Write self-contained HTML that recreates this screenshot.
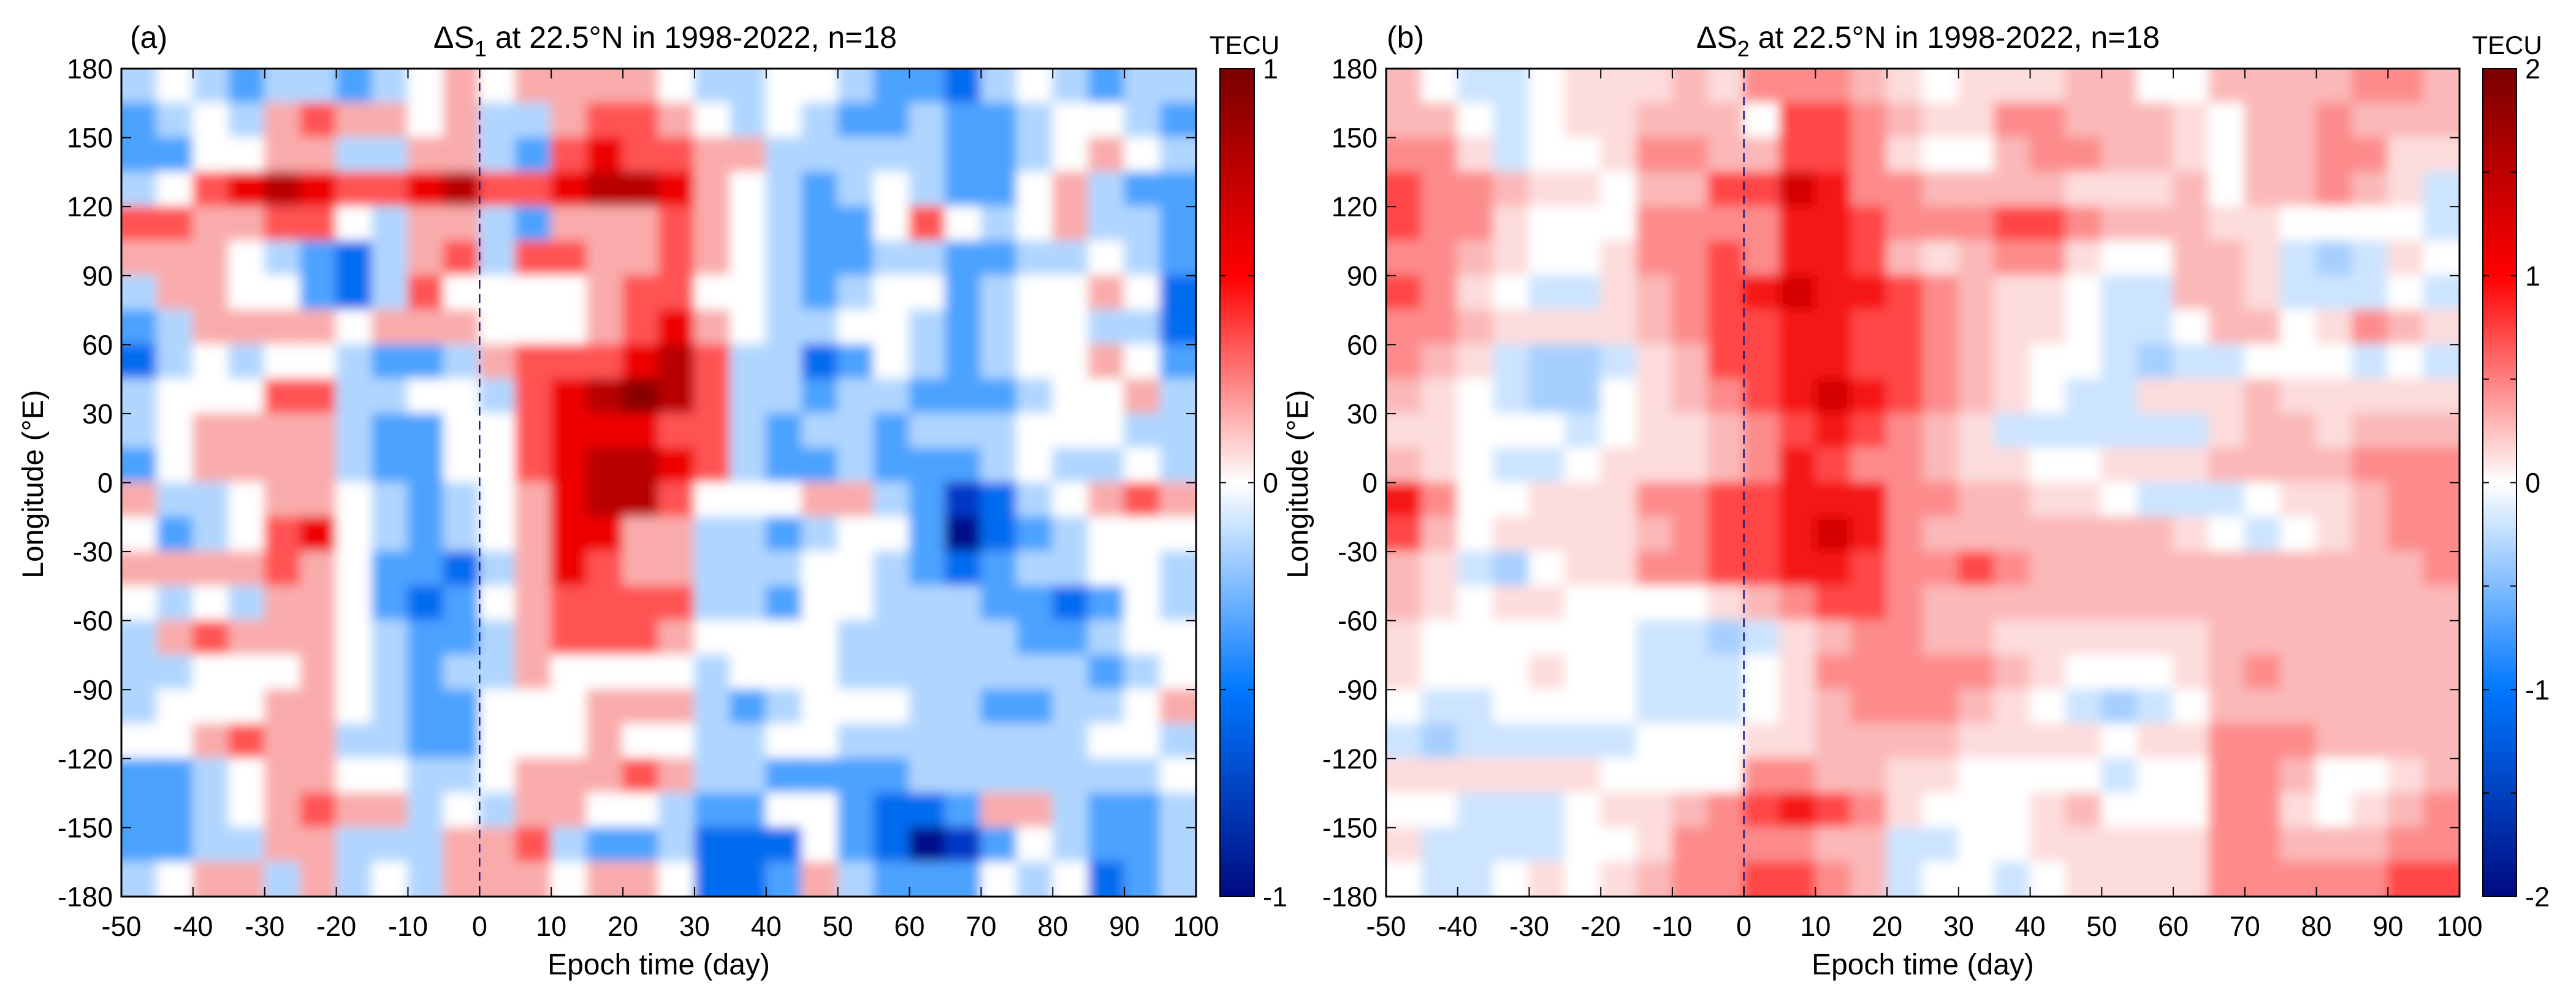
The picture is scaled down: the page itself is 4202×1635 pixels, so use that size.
<!DOCTYPE html>
<html><head><meta charset="utf-8"><style>
html,body{margin:0;padding:0;background:#fff}
svg{display:block}
text{font-family:"Liberation Sans Narrow","Liberation Sans",sans-serif;fill:#000}
</style></head><body>
<svg id="fig" width="4202" height="1635" viewBox="0 0 4202 1635" xmlns="http://www.w3.org/2000/svg">
<defs>
<linearGradient id="cmap" x1="0" y1="1" x2="0" y2="0">
<stop offset="0" stop-color="#000a80"/><stop offset="0.25" stop-color="#0078ff"/><stop offset="0.5" stop-color="#ffffff"/><stop offset="0.75" stop-color="#ff0000"/><stop offset="1" stop-color="#7a0000"/>
</linearGradient>
<filter id="soft" filterUnits="userSpaceOnUse" x="0" y="0" width="4202" height="1635"><feGaussianBlur stdDeviation="9"/></filter>
<clipPath id="clipA"><rect x="198" y="112" width="1753" height="1351"/></clipPath>
<clipPath id="clipB"><rect x="2261" y="112" width="1751" height="1351"/></clipPath>
</defs>
</svg>
<script>
// Time bins (day, left edge) and longitude bins (top edge, deg E)
const dayEdges = [-50,-45,-40,-35,-30,-25,-20,-15,-10,-5,0,5,10,15,20,25,30,35,40,45,50,55,60,65,70,75,80,85,90,95];
const lonEdges = [180,165,150,135,120,105,90,75,60,45,30,15,0,-15,-30,-45,-60,-75,-90,-105,-120,-135,-150,-165];
const xTicks = [-50,-40,-30,-20,-10,0,10,20,30,40,50,60,70,80,90,100];
const yTicks = [180,150,120,90,60,30,0,-30,-60,-90,-120,-150,-180];
// Panel (a) ΔS1 values in contour-level units (0.2 TECU)
const s1 = [
[-1,0,-1,-2,-1,-1,-2,-1,0,1,0,1,1,1,1,0,-1,-1,0,0,-1,-2,-2,-3,-1,0,-1,-2,-1,-1],
[-2,-1,0,-1,1,2,1,1,0,1,-1,-1,1,2,2,1,0,-1,0,-1,-2,-2,-1,-2,-2,-1,0,0,-1,-2],
[-2,-2,0,0,1,1,-1,-1,1,1,-1,-2,2,3,2,2,1,1,-1,-1,-1,-1,-1,-2,-2,-1,0,1,0,-1],
[-1,0,2,3,4,3,2,2,3,4,2,2,3,4,4,3,1,0,-1,-2,-1,0,-1,-2,-2,0,1,-1,-2,-2],
[2,2,1,1,2,2,0,-1,1,1,-1,-2,1,1,1,2,1,0,-1,-2,-2,0,2,0,-1,0,1,-1,-1,-2],
[1,1,1,0,-1,-2,-3,-1,1,2,-1,2,2,1,1,2,1,0,-1,-2,-2,-1,-1,-2,-2,-1,-1,0,-1,-2],
[-1,1,1,0,0,-2,-3,-1,2,0,0,0,0,1,2,2,0,0,-1,-2,-1,0,0,-2,-1,0,0,1,0,-3],
[-2,-1,1,1,1,1,0,1,1,1,0,0,0,1,2,3,1,0,-1,-1,0,0,-1,-2,-1,0,0,-1,-1,-3],
[-3,-1,0,-1,0,0,-1,-2,-2,-1,1,2,2,2,3,4,2,-1,-1,-3,-2,0,-1,-2,-1,0,0,1,0,-2],
[-1,0,0,0,2,2,-1,-1,0,0,-1,2,3,4,5,4,2,-1,-1,-2,-1,-1,-2,-2,-2,-1,0,0,1,-1],
[-1,0,1,1,1,1,-1,-2,-2,0,0,2,3,3,3,2,2,-1,-2,-1,-1,-2,-1,-1,-1,0,0,0,-1,-1],
[-2,0,1,1,1,1,-1,-2,-2,0,0,2,3,4,4,3,2,-1,-2,-2,-1,-2,-2,-2,-1,0,-1,-1,0,-1],
[1,-1,-1,0,1,1,0,-1,-2,-1,0,1,3,4,4,2,0,0,0,1,1,-1,-2,-4,-3,-1,0,1,2,1],
[0,-2,-1,0,2,3,0,-1,-2,-1,0,1,3,3,1,1,-1,-1,-2,-1,0,0,-2,-5,-3,-2,-1,0,0,0],
[1,1,1,1,2,1,0,-2,-2,-3,-1,1,3,2,1,1,-1,-1,-1,0,0,-1,-2,-3,-2,-1,-1,0,0,-1],
[0,-1,0,-1,1,1,0,-2,-3,-2,0,1,2,2,2,2,-1,-1,-2,0,0,-1,-1,-1,-2,-2,-3,-2,0,-1],
[-1,1,2,1,1,1,0,-1,-2,-2,-1,1,2,2,2,1,0,0,0,0,-1,-1,-1,-1,-1,-2,-2,-1,0,0],
[-1,-1,0,0,0,1,0,-1,-2,-1,-1,1,0,0,0,0,-1,0,0,0,-1,-1,-1,-1,-1,-1,-1,-2,-1,0],
[-1,0,0,0,1,1,0,-1,-2,-2,0,0,0,1,1,1,-1,-2,-1,0,0,0,-1,-1,-2,-2,-1,-1,0,1],
[0,0,1,2,1,1,-1,-1,-2,-2,0,0,0,1,0,0,-1,-1,0,0,-1,-1,-1,-1,-1,-1,-1,0,0,-1],
[-2,-2,-1,0,1,1,0,0,-1,-1,0,1,1,1,2,1,-1,-1,-2,-2,-2,-2,-1,-1,-1,-1,-1,-1,-1,0],
[-2,-2,-1,0,1,2,1,1,-1,0,-1,1,1,0,0,-1,-2,-2,0,0,-2,-3,-3,-2,1,1,-1,-2,-2,-1],
[-2,-2,-1,-1,1,1,-1,-1,-1,1,1,2,-1,-2,-2,-1,-3,-3,-3,0,-2,-3,-5,-4,-2,0,-1,-2,-2,-1],
[-1,0,1,1,-1,1,-1,0,-1,1,1,1,0,1,1,0,-3,-3,-2,1,-1,-2,-2,-2,0,-1,0,-3,-2,-1]
];
// Panel (b) ΔS2 values in contour-level units (0.25 TECU)
const s2 = [
[2,0,-1,-1,0,1,1,1,2,1,3,3,3,2,1,0,1,1,1,2,2,0,0,2,2,2,2,3,3,2],
[2,2,0,-1,0,1,1,2,2,2,0,4,4,3,2,1,1,3,3,2,2,2,1,0,2,2,3,2,2,2],
[3,3,1,-1,0,0,1,3,3,2,2,4,4,3,1,0,0,2,3,3,2,2,1,0,2,2,3,3,1,1],
[4,3,3,2,1,1,0,2,2,4,4,6,5,3,3,2,2,2,2,1,1,1,2,0,2,2,3,2,1,-1],
[4,3,3,1,0,0,0,3,3,3,3,5,5,4,3,3,3,4,4,3,2,2,2,1,1,0,0,0,0,-1],
[3,3,2,1,0,0,1,3,3,4,3,5,5,4,2,1,2,3,3,1,0,0,2,2,1,-1,-2,-1,1,0],
[4,3,1,0,-1,-1,1,2,3,4,5,6,5,5,4,3,2,1,1,0,-1,-1,2,2,1,-1,-1,-1,0,-1],
[3,3,2,1,1,1,1,2,3,4,4,5,5,4,4,3,2,1,1,0,-1,-1,0,2,2,0,1,3,2,1],
[3,2,1,-1,-2,-2,-1,1,2,4,4,5,5,4,4,3,2,1,0,0,-1,-2,-1,-1,0,0,0,-1,0,-1],
[2,1,0,-1,-2,-2,0,1,2,3,4,5,6,5,4,3,2,1,0,-1,-1,1,1,1,2,1,1,1,1,1],
[1,1,0,0,0,-1,0,1,1,2,3,4,5,4,3,2,1,-1,-1,-1,-1,-1,-1,1,2,2,1,2,2,2],
[2,1,0,-1,-1,0,1,1,1,2,3,5,4,3,3,2,1,1,0,0,1,1,1,2,2,2,2,3,3,3],
[5,3,0,0,1,1,1,3,3,4,4,5,5,5,3,3,2,2,1,1,0,-1,-1,-1,0,1,1,2,3,3],
[4,2,0,1,1,1,1,2,3,4,4,5,6,5,3,2,2,2,2,2,2,2,1,0,-1,0,1,2,3,3],
[2,1,-1,-2,0,1,1,3,3,4,4,5,5,4,3,3,4,3,2,2,2,2,2,2,2,2,2,2,2,3],
[2,1,0,1,1,0,0,0,0,1,2,3,4,4,3,2,2,2,2,2,2,2,2,2,2,2,2,2,2,2],
[1,0,0,0,0,0,0,-1,-1,-2,-1,1,2,3,3,2,2,1,1,1,1,1,1,2,2,2,2,2,2,2],
[1,0,0,0,1,0,0,-1,-1,-1,0,1,3,3,3,3,3,2,1,0,0,0,1,2,3,2,2,2,2,2],
[0,-1,-1,0,0,0,0,-1,-1,-1,0,1,2,3,3,3,2,1,0,-1,-2,-1,0,2,2,2,2,2,2,2],
[-1,-2,-1,-1,-1,-1,-1,0,0,0,1,1,2,2,2,2,1,1,1,1,0,1,1,3,3,3,2,2,2,2],
[1,1,1,1,1,1,0,0,0,0,3,3,2,2,1,1,0,0,0,0,-1,0,0,3,3,2,0,0,1,2],
[0,0,-1,-1,-1,0,1,1,2,3,4,5,4,3,1,0,0,0,1,2,0,0,0,3,3,1,0,1,2,3],
[1,-1,-1,-1,-1,0,0,1,3,3,3,3,2,2,-1,-1,0,0,1,1,1,1,1,3,3,2,2,2,3,3],
[0,-1,-1,0,1,0,1,2,3,3,4,4,3,2,-1,0,0,-1,0,1,1,1,1,3,3,3,3,3,4,4]
];
const palA = {"-5":"#000f8a","-4":"#0039c6","-3":"#006cf0","-2":"#4ba2ff","-1":"#b0d6ff","0":"#ffffff","1":"#f9abab","2":"#ff5252","3":"#ee0000","4":"#b80000","5":"#8a0000"};
const palB = {"-2":"#a6cfff","-1":"#cce4ff","0":"#ffffff","1":"#fddcdc","2":"#fbb8b8","3":"#fd8b8b","4":"#ff4747","5":"#f51515","6":"#d40000"};

const NS="http://www.w3.org/2000/svg";
const svg=document.getElementById('fig');
function mk(tag,attrs,parent){const e=document.createElementNS(NS,tag);for(const k in attrs)e.setAttribute(k,attrs[k]);(parent||svg).appendChild(e);return e;}

function panel(o){
  const L=o.L,T=o.T,W=o.W,H=o.H;
  const xs=d=>L+(d+50)/150*W;
  const ys=l=>T+(180-l)/360*H;
  const g=mk('g',{});
  
  
  const cells=mk('g',{'clip-path':'url(#'+o.clip+')'},g);
  const inner=mk('g',{filter:'url(#soft)'},cells);
  mk('rect',{x:L-30,y:T-30,width:W+60,height:H+60,fill:'#fff'},inner);
  o.data.forEach((row,i)=>{
    row.forEach((v,j)=>{
      const x0=xs(dayEdges[j]),x1=xs(dayEdges[j]+5);
      let y0=ys(lonEdges[i]),y1=ys(lonEdges[i]-15);
      if(i===0)y0-=30;
      if(i===o.data.length-1)y1+=30;
      let xa=x0-1,xb=x1+1;
      if(j===0)xa-=30;
      if(j===row.length-1)xb+=30;
      const r=mk('rect',{x:xa,y:y0-1,width:xb-xa,height:y1-y0+2,fill:o.pal[String(v)]},inner);
      
      
    });
  });
  const dl=mk('line',{x1:xs(0),x2:xs(0),y1:T,y2:T+H,stroke:'#1a1a80','stroke-width':2.5,'stroke-dasharray':'14,9'},g);
  
  
  const fr=mk('rect',{x:L,y:T,width:W,height:H,fill:'none',stroke:'#000','stroke-width':3},g);
  
  
  xTicks.forEach(t=>{
    const x=xs(t);
    mk('line',{x1:x,x2:x,y1:T+H,y2:T+H-16,stroke:'#000','stroke-width':2},g);
    mk('line',{x1:x,x2:x,y1:T,y2:T+16,stroke:'#000','stroke-width':2},g);
    const tx=mk('text',{x:x,y:1527,'text-anchor':'middle','font-size':45},g);tx.textContent=t;
    
    
  });
  yTicks.forEach(t=>{
    const y=ys(t);
    mk('line',{x1:L,x2:L+16,y1:y,y2:y,stroke:'#000','stroke-width':2},g);
    mk('line',{x1:L+W,x2:L+W-16,y1:y,y2:y,stroke:'#000','stroke-width':2},g);
    const tx=mk('text',{x:L-14,y:y+16,'text-anchor':'end','font-size':45},g);tx.textContent=t;
    
    
  });
  const xl=mk('text',{x:L+W/2,y:1590,'text-anchor':'middle','font-size':48},g);xl.textContent='Epoch time (day)';
  
  
  const yl=mk('text',{x:0,y:0,'text-anchor':'middle','font-size':48,transform:'translate('+(L-128)+',790) rotate(-90)'},g);yl.textContent='Longitude (°E)';
  
  
  const pl=mk('text',{x:o.labX,y:78,'font-size':50},g);pl.textContent=o.lab;
  
  
  const ti=mk('text',{x:o.titleX,y:78,'text-anchor':'middle','font-size':50},g);
  
  
  const t1=mk('tspan',{},ti);t1.textContent='ΔS';
  const t2=mk('tspan',{dy:14,'font-size':36},ti);t2.textContent=o.sub;
  const t3=mk('tspan',{dy:-14},ti);t3.textContent=' at 22.5°N in 1998-2022, n=18';
  const cb=mk('rect',{x:o.cbX,y:T,width:o.cbW,height:H,fill:'url(#cmap)',stroke:'#000','stroke-width':2},g);
  
  
  o.cbTicks.forEach(v=>{
    const y=T+(o.cbMax-v)/(2*o.cbMax)*H;
    mk('line',{x1:o.cbX+o.cbW-10,x2:o.cbX+o.cbW,y1:y,y2:y,stroke:'#000','stroke-width':2},g);
    mk('line',{x1:o.cbX,x2:o.cbX+10,y1:y,y2:y,stroke:'#000','stroke-width':2},g);
  });
  o.cbLabels.forEach(v=>{
    const y=T+(o.cbMax-v)/(2*o.cbMax)*H;
    const tx=mk('text',{x:o.cbX+o.cbW+14,y:y+16,'font-size':45},g);tx.textContent=v;
    
    
  });
  const un=mk('text',{x:o.cbX+o.cbW/2+12,y:88,'text-anchor':'middle','font-size':42},g);un.textContent='TECU';
  
  
}
panel({id:'a',L:198,T:112,W:1753,H:1351,clip:'clipA',data:s1,pal:palA,labX:212,lab:'(a)',titleX:1085,sub:'1',cbX:1990,cbW:56,cbMax:1,cbTicks:[-1,-0.5,0,0.5,1],cbLabels:[-1,0,1]});
panel({id:'b',L:2261,T:112,W:1751,H:1351,clip:'clipB',data:s2,pal:palB,labX:2262,lab:'(b)',titleX:3145,sub:'2',cbX:4050,cbW:55,cbMax:2,cbTicks:[-2,-1.5,-1,-0.5,0,0.5,1,1.5,2],cbLabels:[-2,-1,0,1,2]});
</script>
</body></html>
